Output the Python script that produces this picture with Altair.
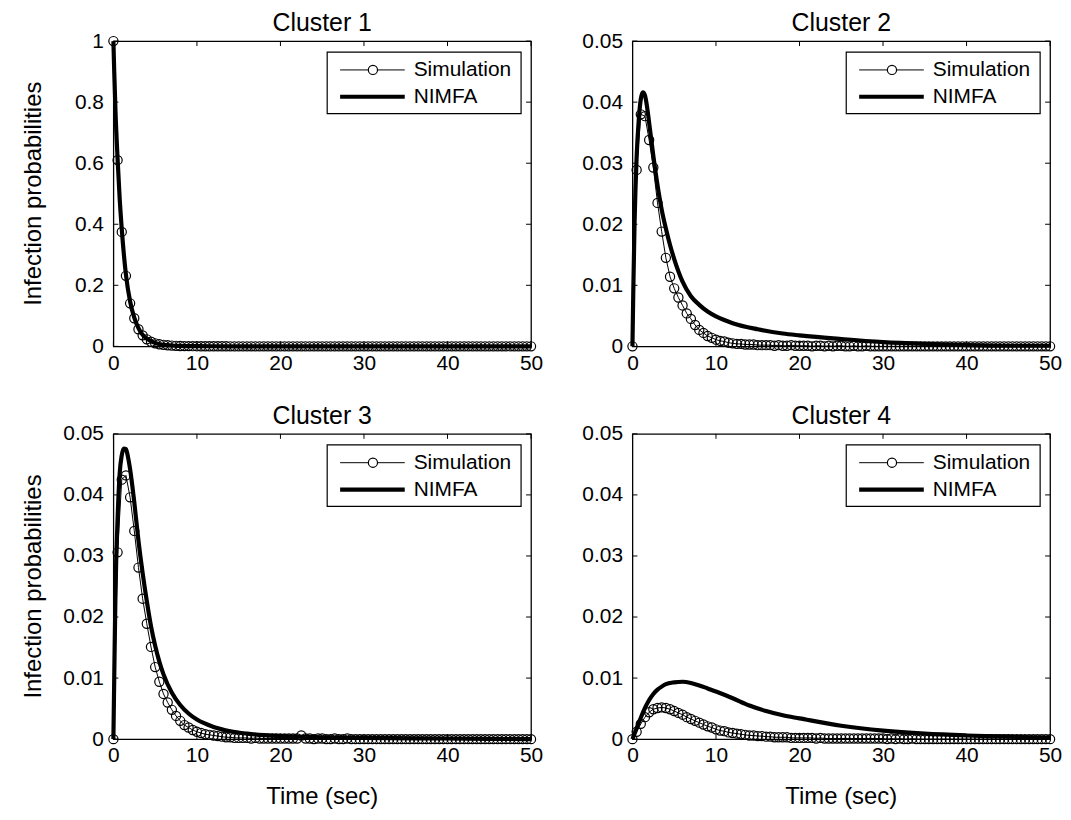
import altair as alt
import pandas as pd

FONT = "Liberation Sans"
W, H = 420, 307

# ---------------- data ----------------
TIME_SIM = [i / 2 for i in range(101)]          # sampling grid 0, 0.5, ..., 50 s
X_TICKS = [0, 10, 20, 30, 40, 50]
Y_TICKS_C1 = [0, 0.2, 0.4, 0.6, 0.8, 1.0]
Y_TICKS_SMALL = [0, 0.01, 0.02, 0.03, 0.04, 0.05]
CLUSTERS = ["Cluster 1", "Cluster 2", "Cluster 3", "Cluster 4"]
SERIES = ["Simulation", "NIMFA"]
Y_TITLE = "Infection probabilities"
X_TITLE = "Time (sec)"

SIM_C1 = [
    1.0, 0.61, 0.375, 0.231, 0.141, 0.092, 0.056, 0.036, 0.023, 0.015,
    0.010, 0.007, 0.005, 0.0035, 0.0025, 0.0018, 0.0013, 0.0010, 0.0008, 0.0006,
    0.0005, 0.0004, 0.0004, 0.0003, 0.0003, 0.0002, 0.0002, 0.0002, 0.0001, 0.0001,
    0.0001, 0.0001, 0.0001, 0.0001, 0.0001, 0.0001, 0.0001, 0.0001, 0.0001, 0.0001,
    0.0, 0.0, 0.0, 0.0, 0.0, 0.0, 0.0, 0.0, 0.0, 0.0,
    0.0, 0.0, 0.0, 0.0, 0.0, 0.0, 0.0, 0.0, 0.0, 0.0,
    0.0, 0.0, 0.0, 0.0, 0.0, 0.0, 0.0, 0.0, 0.0, 0.0,
    0.0, 0.0, 0.0, 0.0, 0.0, 0.0, 0.0, 0.0, 0.0, 0.0,
    0.0, 0.0, 0.0, 0.0, 0.0, 0.0, 0.0, 0.0, 0.0, 0.0,
    0.0, 0.0, 0.0, 0.0, 0.0, 0.0, 0.0, 0.0, 0.0, 0.0,
    0.0,
]
SIM_C2 = [
    0.0, 0.0289, 0.0380, 0.0377, 0.0338, 0.0293, 0.0235, 0.0188, 0.0145, 0.0114,
    0.0095, 0.0080, 0.0067, 0.0054, 0.0045, 0.0035, 0.0027, 0.0022, 0.0017, 0.0014,
    0.0011, 0.0009, 0.0008, 0.0006, 0.0005, 0.0004, 0.0004, 0.0003, 0.0003, 0.0003,
    0.0002, 0.0002, 0.0002, 0.0002, 0.0001, 0.0002, 0.0001, 0.0001, 0.0002, 0.0001,
    0.0001, 0.0001, 0.0001, 0.0, 0.0001, 0.0001, 0.0, 0.0001, 0.0, 0.0001,
    0.0001, 0.0, 0.0, 0.0001, 0.0, 0.0, 0.0001, 0.0, 0.0, 0.0,
    0.0, 0.0, 0.0, 0.0, 0.0, 0.0, 0.0, 0.0, 0.0, 0.0,
    0.0, 0.0, 0.0, 0.0, 0.0, 0.0, 0.0, 0.0, 0.0, 0.0,
    0.0, 0.0, 0.0, 0.0, 0.0, 0.0, 0.0, 0.0, 0.0, 0.0,
    0.0, 0.0, 0.0, 0.0, 0.0, 0.0, 0.0, 0.0, 0.0, 0.0,
    0.0,
]
SIM_C3 = [
    0.0, 0.0306, 0.0425, 0.0432, 0.0396, 0.0341, 0.0281, 0.0230, 0.0189, 0.0151,
    0.0118, 0.0094, 0.0074, 0.0060, 0.0048, 0.0038, 0.0030, 0.0023, 0.0019, 0.0015,
    0.0012, 0.0010, 0.0008, 0.0007, 0.0006, 0.0005, 0.0004, 0.0003, 0.0003, 0.0002,
    0.0002, 0.0002, 0.0002, 0.0001, 0.0002, 0.0001, 0.0001, 0.0001, 0.0001, 0.0001,
    0.0001, 0.0001, 0.0001, 0.0001, 0.0001, 0.0006, 0.0001, 0.0001, 0.0, 0.0001,
    0.0001, 0.0, 0.0, 0.0001, 0.0, 0.0, 0.0001, 0.0, 0.0, 0.0,
    0.0, 0.0, 0.0, 0.0, 0.0, 0.0, 0.0, 0.0, 0.0, 0.0,
    0.0, 0.0, 0.0, 0.0, 0.0, 0.0, 0.0, 0.0, 0.0, 0.0,
    0.0, 0.0, 0.0, 0.0, 0.0, 0.0, 0.0, 0.0, 0.0, 0.0,
    0.0, 0.0, 0.0, 0.0, 0.0, 0.0, 0.0, 0.0, 0.0, 0.0,
    0.0,
]
SIM_C4 = [
    0.0, 0.0012, 0.0025, 0.0036, 0.0044, 0.0049, 0.0051, 0.0052, 0.0051, 0.0049,
    0.0046, 0.0043, 0.0040, 0.0036, 0.0033, 0.0030, 0.0027, 0.0024, 0.0021, 0.0019,
    0.0016, 0.0014, 0.0013, 0.0011, 0.0010, 0.0009, 0.0008, 0.0007, 0.0006, 0.0006,
    0.0005, 0.0005, 0.0004, 0.0004, 0.0003, 0.0003, 0.0003, 0.0003, 0.0002, 0.0002,
    0.0002, 0.0002, 0.0002, 0.0002, 0.0001, 0.0002, 0.0001, 0.0001, 0.0001, 0.0001,
    0.0001, 0.0001, 0.0001, 0.0001, 0.0001, 0.0001, 0.0001, 0.0001, 0.0001, 0.0001,
    0.0001, 0.0, 0.0001, 0.0, 0.0001, 0.0, 0.0, 0.0001, 0.0, 0.0,
    0.0, 0.0, 0.0, 0.0, 0.0, 0.0, 0.0, 0.0, 0.0, 0.0,
    0.0, 0.0, 0.0, 0.0, 0.0, 0.0, 0.0, 0.0, 0.0, 0.0,
    0.0, 0.0, 0.0, 0.0, 0.0, 0.0, 0.0, 0.0, 0.0, 0.0,
    0.0,
]

NIM_T_C1 = [0, 0.1, 0.25, 0.5, 0.75, 1, 1.5, 2, 2.5, 3, 3.5, 4, 5, 6, 7, 8, 10, 12, 15, 20, 30, 40, 50]
NIM_V_C1 = [1.0, 0.9, 0.77, 0.615, 0.485, 0.385, 0.235, 0.147, 0.094, 0.06, 0.038, 0.025,
            0.011, 0.005, 0.0028, 0.0017, 0.0008, 0.0004, 0.0002, 0.0001, 0.0, 0.0, 0.0]

NIM_T_C2 = [0, 0.1, 0.25, 0.5, 0.75, 1.0, 1.25, 1.5, 1.75, 2.0, 2.5, 3.0, 3.5, 4.0, 4.5, 5.0,
            6.0, 7.0, 8.0, 9.0, 10, 12, 15, 18, 20, 25, 30, 35, 40, 45, 50]
NIM_V_C2 = [0.0, 0.009, 0.020, 0.031, 0.037, 0.0405, 0.0416, 0.0411, 0.0392, 0.0366, 0.0312,
            0.0264, 0.0224, 0.0193, 0.0166, 0.0143, 0.0106, 0.0082, 0.0068, 0.0057, 0.0049,
            0.0038, 0.0028, 0.0021, 0.0018, 0.0012, 0.0007, 0.0004, 0.0002, 0.0001, 0.0001]

NIM_T_C3 = [0, 0.1, 0.25, 0.5, 0.75, 1.0, 1.25, 1.5, 1.75, 2.0, 2.5, 3.0, 3.5, 4.0, 4.5, 5.0,
            5.5, 6, 7, 8, 9, 10, 12, 14, 16, 20, 25, 30, 40, 50]
NIM_V_C3 = [0.0, 0.010, 0.024, 0.036, 0.0435, 0.0465, 0.0476, 0.0475, 0.0462, 0.0442, 0.0388,
            0.0325, 0.0272, 0.0226, 0.0185, 0.0153, 0.0127, 0.0106, 0.0076, 0.0056, 0.0042,
            0.0032, 0.0020, 0.0013, 0.0009, 0.0005, 0.0003, 0.0002, 0.0001, 0.0]

NIM_T_C4 = [0, 0.5, 1, 1.5, 2, 2.5, 3, 3.5, 4, 5, 6, 7, 8, 9, 10, 12, 14, 16, 18, 20,
            25, 30, 35, 40, 45, 50]
NIM_V_C4 = [0.0, 0.0018, 0.0035, 0.0051, 0.0064, 0.0074, 0.0081, 0.0086, 0.0090, 0.0093,
            0.0094, 0.0092, 0.0088, 0.0083, 0.0078, 0.0067, 0.0055, 0.0046, 0.0039, 0.0034,
            0.0022, 0.0014, 0.0009, 0.0006, 0.0004, 0.0002]

# ---------------- styling / layout constants ----------------
LAB = 21
TITLE_FS = 25
AX_TITLE_FS = 24
LEG_FS = 21
MARK_SIZE = 85
LEG = dict(x0=215, x1=410, y0=11, y1=73, row1=29, row2=56, lx0=228, lx1=293, mx=261, tx=302)
ONE = pd.DataFrame({"k": [0]})


def text_layer(txt, x, y, size, angle=0, baseline="middle"):
    return alt.Chart(ONE).mark_text(align="center", baseline=baseline, fontSize=size,
                                    color="black", font=FONT, angle=angle).encode(
        x=alt.value(x), y=alt.value(y), text=alt.value(txt))


def panel(title, sim, nt, nv, ymax, yticks, ytitle, xtitle):
    xs = alt.Scale(domain=[0, 50], nice=False, zero=False)
    ys = alt.Scale(domain=[0, ymax], nice=False, zero=False)

    xax = alt.Axis(values=X_TICKS, ticks=False, tickSize=0, domain=False, grid=False,
                   labelFontSize=LAB, labelPadding=6, labelFlush=False, labelColor="black",
                   labelFont=FONT, format=".3~f", title=None)
    yax = alt.Axis(values=yticks, ticks=False, tickSize=0, domain=False, grid=False,
                   labelFontSize=LAB, labelPadding=10, labelFlush=False, labelColor="black",
                   labelFont=FONT, format=".3~f", title=None)

    X = alt.X("t:Q", scale=xs, axis=xax)
    Y = alt.Y("p:Q", scale=ys, axis=yax)

    sim_df = pd.DataFrame({"t": TIME_SIM, "p": sim})
    nim_df = pd.DataFrame({"t": nt, "p": nv})
    xt = pd.DataFrame({"t": X_TICKS})
    yt = pd.DataFrame({"p": yticks})

    sim_line = alt.Chart(sim_df).mark_line(color="black", strokeWidth=1).encode(x=X, y=Y)
    sim_pts = alt.Chart(sim_df).mark_point(shape="circle", filled=False, color="black",
                                           size=MARK_SIZE, strokeWidth=1.2, opacity=1).encode(x=X, y=Y)
    nim_line = alt.Chart(nim_df).mark_line(color="black", strokeWidth=4.2,
                                           interpolate="monotone").encode(x=X, y=Y)

    # inward tick marks on all four sides of the box
    tick_b = alt.Chart(xt).mark_rule(color="black", strokeWidth=1).encode(
        x=X, y=alt.value(H), y2=alt.value(H - 5))
    tick_t = alt.Chart(xt).mark_rule(color="black", strokeWidth=1).encode(
        x=X, y=alt.value(0), y2=alt.value(5))
    tick_l = alt.Chart(yt).mark_rule(color="black", strokeWidth=1).encode(
        y=Y, x=alt.value(0), x2=alt.value(5))
    tick_r = alt.Chart(yt).mark_rule(color="black", strokeWidth=1).encode(
        y=Y, x=alt.value(W - 5), x2=alt.value(W))

    # legend box
    box = alt.Chart(ONE).mark_rect(fill="white", stroke="black", strokeWidth=1.2).encode(
        x=alt.value(LEG["x0"]), x2=alt.value(LEG["x1"]),
        y=alt.value(LEG["y0"]), y2=alt.value(LEG["y1"]))
    leg_sim_line = alt.Chart(ONE).mark_rule(color="black", strokeWidth=1).encode(
        x=alt.value(LEG["lx0"]), x2=alt.value(LEG["lx1"]), y=alt.value(LEG["row1"]))
    leg_sim_pt = alt.Chart(ONE).mark_point(shape="circle", filled=True, fill="white",
                                           stroke="black", size=MARK_SIZE, strokeWidth=1.2,
                                           opacity=1).encode(
        x=alt.value(LEG["mx"]), y=alt.value(LEG["row1"]))
    leg_nim_line = alt.Chart(ONE).mark_rule(color="black", strokeWidth=4.2).encode(
        x=alt.value(LEG["lx0"]), x2=alt.value(LEG["lx1"]), y=alt.value(LEG["row2"]))
    leg_txt1 = alt.Chart(ONE).mark_text(align="left", baseline="middle", fontSize=LEG_FS,
                                        color="black", font=FONT).encode(
        x=alt.value(LEG["tx"]), y=alt.value(LEG["row1"]), text=alt.value(SERIES[0]))
    leg_txt2 = alt.Chart(ONE).mark_text(align="left", baseline="middle", fontSize=LEG_FS,
                                        color="black", font=FONT).encode(
        x=alt.value(LEG["tx"]), y=alt.value(LEG["row2"]), text=alt.value(SERIES[1]))

    layers = [sim_line, sim_pts, nim_line, tick_b, tick_t, tick_l, tick_r,
              box, leg_sim_line, leg_sim_pt, leg_nim_line, leg_txt1, leg_txt2,
              text_layer(title, W / 2, -10, TITLE_FS, baseline="alphabetic")]
    if ytitle:
        layers.append(text_layer(ytitle, -80, H / 2, AX_TITLE_FS, angle=270))
    if xtitle:
        layers.append(text_layer(xtitle, W / 2, H + 58, AX_TITLE_FS))

    return alt.layer(*layers).properties(width=W, height=H)


p1 = panel(CLUSTERS[0], SIM_C1, NIM_T_C1, NIM_V_C1, 1.0, Y_TICKS_C1, Y_TITLE, None)
p2 = panel(CLUSTERS[1], SIM_C2, NIM_T_C2, NIM_V_C2, 0.05, Y_TICKS_SMALL, None, None)
p3 = panel(CLUSTERS[2], SIM_C3, NIM_T_C3, NIM_V_C3, 0.05, Y_TICKS_SMALL, Y_TITLE, X_TITLE)
p4 = panel(CLUSTERS[3], SIM_C4, NIM_T_C4, NIM_V_C4, 0.05, Y_TICKS_SMALL, None, X_TITLE)

row1 = alt.hconcat(p1, p2, spacing=37)
row2 = alt.hconcat(p3, p4, spacing=37)

chart = alt.vconcat(row1, row2, spacing=29).properties(
    padding={"left": 13, "top": 0, "right": 0, "bottom": 0},
).configure(font=FONT).configure_view(stroke="black", strokeWidth=1.3)

chart.save("out.html", embed_options={"renderer": "svg", "actions": False})
